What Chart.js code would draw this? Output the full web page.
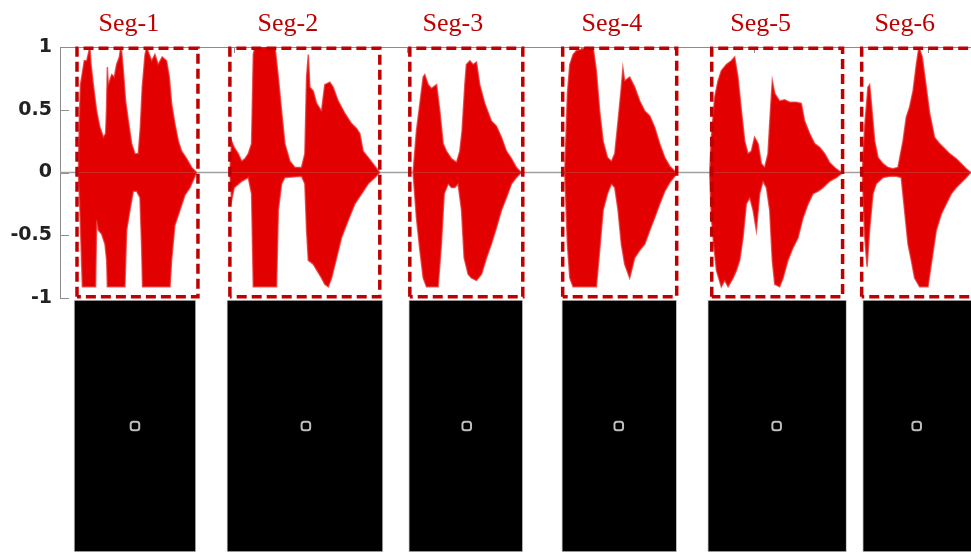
<!DOCTYPE html>
<html>
<head>
<meta charset="utf-8">
<title>Seg-1 ... Seg-6</title>
<script src="https://cdn.jsdelivr.net/npm/chart.js@4.4.0/dist/chart.umd.min.js"></script>
<style>
  html, body { margin: 0; padding: 0; background: #fff; }
  #wrap { position: relative; width: 971px; height: 552px; overflow: hidden; }
  #grafico-onda { position: absolute; left: 0; top: 0; }
  #grafico-blocos { position: absolute; left: 0; top: 300px; }
</style>
</head>
<body>
<div id="wrap">
  <canvas id="grafico-onda" width="971" height="320"></canvas>
  <canvas id="grafico-blocos" width="971" height="252"></canvas>
</div>
<script>
// Segment names and where their titles sit (time, s)
const segNames = ['Seg-1', 'Seg-2', 'Seg-3', 'Seg-4', 'Seg-5', 'Seg-6'];
const segTitleAt = [0.397, 1.313, 2.264, 3.180, 4.038, 4.868];

// Dashed selection boxes (time, s) and their amplitude limit
const boxStart = [0.098, 0.979, 2.016, 2.897, 3.756, 4.620];
const boxEnd = [0.795, 1.843, 2.667, 3.554, 4.510, 5.270];
const boxLimit = 0.99;

// Amplitude axis
const yTicks = [-1, -0.5, 0, 0.5, 1];
const timeMax = 5.25;

// Waveform envelopes, [time s, amplitude]
const seg1Top = [[0.106,0],[0.112,0.45],[0.118,0.70],[0.125,0.76],[0.140,0.89],[0.154,0.89],[0.167,0.97],[0.172,1.00],[0.179,0.86],[0.192,0.70],[0.211,0.49],[0.230,0.36],[0.250,0.28],[0.263,0.31],[0.268,0.50],[0.273,0.84],[0.278,0.70],[0.298,0.78],[0.313,0.76],[0.326,0.86],[0.342,0.92],[0.350,1.00],[0.355,0.97],[0.365,0.81],[0.378,0.57],[0.394,0.41],[0.413,0.23],[0.432,0.15],[0.451,0.15],[0.463,0.36],[0.474,0.68],[0.490,0.94],[0.500,1.00],[0.509,0.96],[0.528,0.89],[0.547,0.94],[0.566,0.86],[0.589,0.92],[0.614,0.89],[0.630,0.76],[0.643,0.55],[0.662,0.39],[0.682,0.25],[0.701,0.17],[0.730,0.11],[0.759,0.04],[0.787,0]];
const seg1Bottom = [[0.106,0],[0.115,-0.30],[0.129,-0.91],[0.205,-0.91],[0.211,-0.38],[0.221,-0.46],[0.240,-0.49],[0.259,-0.57],[0.269,-0.70],[0.273,-0.91],[0.374,-0.91],[0.384,-0.46],[0.403,-0.30],[0.422,-0.15],[0.442,-0.15],[0.461,-0.20],[0.470,-0.57],[0.476,-0.91],[0.634,-0.91],[0.643,-0.70],[0.662,-0.42],[0.691,-0.30],[0.720,-0.18],[0.749,-0.12],[0.778,-0.03],[0.787,0]];

const seg2Top = [[0.979,0],[0.989,0.25],[1.004,0.20],[1.027,0.15],[1.047,0.09],[1.066,0.11],[1.085,0.15],[1.104,0.23],[1.114,0.94],[1.123,1.00],[1.239,1.00],[1.258,0.76],[1.277,0.49],[1.296,0.23],[1.325,0.09],[1.354,0.04],[1.392,0.04],[1.411,0.15],[1.421,0.76],[1.431,0.94],[1.440,0.68],[1.459,0.65],[1.479,0.55],[1.507,0.49],[1.526,0.70],[1.555,0.72],[1.574,0.68],[1.603,0.57],[1.642,0.47],[1.680,0.39],[1.709,0.35],[1.728,0.31],[1.747,0.17],[1.776,0.12],[1.815,0.05],[1.843,0]];
const seg2Bottom = [[0.979,0],[0.989,-0.22],[1.004,-0.12],[1.047,-0.07],[1.085,-0.04],[1.104,-0.17],[1.114,-0.91],[1.248,-0.91],[1.258,-0.30],[1.277,-0.09],[1.296,-0.04],[1.392,-0.03],[1.411,-0.09],[1.421,-0.46],[1.431,-0.70],[1.459,-0.73],[1.507,-0.84],[1.526,-0.89],[1.546,-0.91],[1.565,-0.84],[1.594,-0.68],[1.622,-0.52],[1.661,-0.38],[1.699,-0.25],[1.738,-0.17],[1.776,-0.09],[1.815,-0.04],[1.843,0]];

const seg3Top = [[2.035,0],[2.054,0.33],[2.074,0.55],[2.093,0.76],[2.102,0.78],[2.122,0.70],[2.141,0.67],[2.170,0.70],[2.189,0.49],[2.208,0.23],[2.227,0.17],[2.256,0.11],[2.285,0.08],[2.304,0.17],[2.317,0.33],[2.333,0.70],[2.342,0.86],[2.362,0.89],[2.381,0.86],[2.400,0.88],[2.419,0.70],[2.448,0.55],[2.486,0.41],[2.515,0.37],[2.544,0.28],[2.573,0.17],[2.602,0.11],[2.630,0.04],[2.659,0]];
const seg3Bottom = [[2.035,0],[2.054,-0.36],[2.074,-0.62],[2.093,-0.84],[2.112,-0.91],[2.179,-0.91],[2.198,-0.57],[2.214,-0.17],[2.237,-0.09],[2.256,-0.12],[2.275,-0.12],[2.294,-0.09],[2.314,-0.30],[2.329,-0.68],[2.352,-0.81],[2.371,-0.84],[2.400,-0.86],[2.429,-0.81],[2.458,-0.68],[2.486,-0.57],[2.515,-0.44],[2.544,-0.30],[2.573,-0.20],[2.602,-0.09],[2.630,-0.04],[2.659,0]];

const seg4Top = [[2.909,0],[2.924,0.63],[2.938,0.86],[2.957,0.94],[2.976,0.97],[3.005,0.98],[3.034,1.00],[3.072,1.00],[3.091,0.81],[3.110,0.49],[3.130,0.25],[3.155,0.12],[3.178,0.09],[3.197,0.15],[3.216,0.41],[3.235,0.68],[3.244,0.83],[3.254,0.73],[3.283,0.76],[3.312,0.68],[3.341,0.57],[3.370,0.49],[3.399,0.45],[3.427,0.36],[3.456,0.23],[3.485,0.12],[3.514,0.05],[3.543,0.01],[3.558,0]];
const seg4Bottom = [[2.909,0],[2.924,-0.57],[2.938,-0.84],[2.957,-0.91],[3.091,-0.91],[3.110,-0.62],[3.130,-0.30],[3.155,-0.17],[3.178,-0.09],[3.197,-0.12],[3.216,-0.30],[3.235,-0.57],[3.254,-0.73],[3.283,-0.84],[3.312,-0.68],[3.341,-0.62],[3.370,-0.57],[3.399,-0.46],[3.427,-0.36],[3.456,-0.25],[3.485,-0.15],[3.514,-0.08],[3.543,-0.03],[3.558,0]];

const seg5Top = [[3.744,0],[3.754,0.28],[3.773,0.60],[3.792,0.73],[3.811,0.81],[3.840,0.86],[3.869,0.89],[3.888,0.92],[3.907,0.76],[3.927,0.49],[3.946,0.25],[3.965,0.15],[3.984,0.17],[4.003,0.28],[4.023,0.23],[4.042,0.07],[4.061,0.04],[4.080,0.15],[4.094,0.49],[4.105,0.73],[4.119,0.63],[4.147,0.57],[4.176,0.58],[4.205,0.56],[4.243,0.56],[4.272,0.55],[4.291,0.41],[4.320,0.31],[4.349,0.23],[4.378,0.20],[4.407,0.15],[4.435,0.08],[4.464,0.04],[4.493,0.01],[4.512,0]];
const seg5Bottom = [[3.744,0],[3.754,-0.36],[3.767,-0.57],[3.783,-0.78],[3.811,-0.91],[3.831,-0.86],[3.850,-0.91],[3.879,-0.84],[3.898,-0.78],[3.917,-0.70],[3.936,-0.52],[3.955,-0.25],[3.975,-0.20],[3.994,-0.30],[4.013,-0.46],[4.032,-0.17],[4.051,-0.07],[4.071,-0.12],[4.090,-0.30],[4.105,-0.70],[4.119,-0.89],[4.147,-0.91],[4.167,-0.84],[4.195,-0.70],[4.224,-0.60],[4.253,-0.52],[4.282,-0.36],[4.311,-0.25],[4.339,-0.17],[4.368,-0.15],[4.397,-0.12],[4.435,-0.07],[4.474,-0.04],[4.512,0]];

const seg6Top = [[4.624,0],[4.637,0.36],[4.656,0.68],[4.666,0.70],[4.676,0.55],[4.695,0.25],[4.714,0.12],[4.743,0.07],[4.772,0.04],[4.800,0.03],[4.829,0.04],[4.858,0.25],[4.877,0.44],[4.896,0.52],[4.916,0.65],[4.935,0.86],[4.950,1.00],[4.969,0.92],[4.992,0.68],[5.012,0.47],[5.040,0.28],[5.069,0.23],[5.098,0.19],[5.127,0.15],[5.165,0.11],[5.194,0.07],[5.223,0.03],[5.248,0]];
const seg6Bottom = [[4.624,0],[4.637,-0.50],[4.651,-0.75],[4.666,-0.45],[4.685,-0.17],[4.704,-0.09],[4.743,-0.04],[4.781,-0.03],[4.820,-0.03],[4.848,-0.04],[4.867,-0.30],[4.887,-0.57],[4.906,-0.70],[4.925,-0.84],[4.954,-0.91],[5.002,-0.91],[5.021,-0.73],[5.050,-0.46],[5.079,-0.33],[5.107,-0.25],[5.136,-0.17],[5.165,-0.12],[5.194,-0.08],[5.223,-0.04],[5.248,0]];

// Spectrogram blocks under the waveform (time, s) and the marker in each
const blockStart = [0.081, 0.962, 2.010, 2.892, 3.733, 4.626];
const blockEnd = [0.783, 1.861, 2.667, 3.554, 4.533, 5.300];
const markerAt = [0.432, 1.417, 2.344, 3.220, 4.130, 4.937];

document.addEventListener('DOMContentLoaded', function () {
    const vermelho = '#e30000';
    const vinho = '#bf0000';
    const toPoints = arr => arr.map(p => ({ x: p[0], y: p[1] }));

    const envelopes = [seg1Top, seg1Bottom, seg2Top, seg2Bottom, seg3Top, seg3Bottom,
                       seg4Top, seg4Bottom, seg5Top, seg5Bottom, seg6Top, seg6Bottom];

    const datasets = [];

    // thin grey silence line
    datasets.push({
        data: [{ x: 0, y: 0 }, { x: timeMax, y: 0 }],
        borderColor: '#a0a0a0',
        borderWidth: 1.5,
        pointRadius: 0,
        order: 10
    });

    // red waveforms, each envelope filled to zero
    envelopes.forEach(env => {
        datasets.push({
            data: toPoints(env),
            borderColor: 'rgba(232, 40, 40, 0.75)',
            backgroundColor: vermelho,
            borderWidth: 1.5,
            pointRadius: 0,
            tension: 0,
            fill: 'origin',
            order: 5
        });
    });

    // dashed boxes
    boxStart.forEach((x0, i) => {
        const x1 = boxEnd[i];
        datasets.push({
            data: [
                { x: x0, y: -boxLimit }, { x: x0, y: boxLimit },
                { x: x1, y: boxLimit }, { x: x1, y: -boxLimit }, { x: x0, y: -boxLimit }
            ],
            borderColor: vinho,
            borderWidth: 3.5,
            borderDash: [10, 5],
            pointRadius: 0,
            fill: false,
            clip: false,
            order: 0
        });
    });

    // segment titles + inward tick marks
    const extras = {
        id: 'extras',
        beforeDatasetsDraw(chart) {
            const { ctx, chartArea, scales } = chart;
            ctx.save();
            ctx.strokeStyle = '#8c8c8c';
            ctx.lineWidth = 1;
            scales.y.ticks.forEach(t => {
                const py = Math.round(scales.y.getPixelForValue(t.value)) + 0.5;
                ctx.beginPath();
                ctx.moveTo(chartArea.left, py);
                ctx.lineTo(chartArea.left + 9, py);
                ctx.stroke();
            });
            scales.x.ticks.forEach(t => {
                const px = Math.round(scales.x.getPixelForValue(t.value)) + 0.5;
                ctx.beginPath();
                ctx.moveTo(px, chartArea.top);
                ctx.lineTo(px, chartArea.top + 6);
                ctx.stroke();
            });
            ctx.restore();
        },
        afterDraw(chart) {
            const { ctx, scales } = chart;
            ctx.save();
            ctx.font = '26px "Liberation Serif"';
            ctx.fillStyle = vinho;
            ctx.textAlign = 'center';
            ctx.textBaseline = 'alphabetic';
            segNames.forEach((name, i) => {
                ctx.fillText(name, scales.x.getPixelForValue(segTitleAt[i]), 31);
            });
            ctx.restore();
        }
    };

    new Chart(document.getElementById('grafico-onda'), {
        type: 'line',
        data: { datasets: datasets },
        options: {
            responsive: false,
            animation: false,
            devicePixelRatio: 1,
            layout: { autoPadding: false, padding: { top: 47, bottom: 22, left: 0, right: 0 } },
            plugins: { legend: { display: false }, tooltip: { enabled: false } },
            scales: {
                x: {
                    type: 'linear',
                    position: 'top',
                    min: 0,
                    max: timeMax,
                    ticks: { display: false, stepSize: 1, includeBounds: false },
                    grid: { drawOnChartArea: false, drawTicks: false },
                    border: { display: true, color: '#8c8c8c', width: 1 },
                    afterFit: scale => { scale.height = 0; }
                },
                y: {
                    min: -1,
                    max: 1,
                    afterBuildTicks: scale => { scale.ticks = yTicks.map(v => ({ value: v })); },
                    ticks: {
                        padding: 8,
                        color: '#222',
                        font: { family: 'DejaVu Sans', size: 19, weight: 'bold' },
                        callback: v => String(v)
                    },
                    grid: { drawOnChartArea: false, drawTicks: false },
                    border: { display: true, color: '#8c8c8c', width: 1 },
                    afterFit: scale => { scale.width = 60; }
                }
            }
        },
        plugins: [extras]
    });

    // black spectrogram blocks with a small marker in each
    new Chart(document.getElementById('grafico-blocos'), {
        type: 'bar',
        data: {
            labels: ['faixa'],
            datasets: [{
                data: blockStart.map((x0, i) => ({ y: 'faixa', x: [x0, blockEnd[i]] })),
                backgroundColor: '#000',
                borderColor: '#c4c4c4',
                borderWidth: 1,
                borderSkipped: false,
                barPercentage: 1,
                categoryPercentage: 1,
                order: 1
            }, {
                type: 'scatter',
                data: markerAt.map(x => ({ x: x, y: 'faixa' })),
                pointStyle: 'rectRounded',
                pointRadius: 5,
                borderColor: '#bdbdbd',
                borderWidth: 2,
                backgroundColor: '#000',
                order: 0
            }]
        },
        options: {
            indexAxis: 'y',
            responsive: false,
            animation: false,
            devicePixelRatio: 1,
            layout: { autoPadding: false, padding: { left: 60, right: 0, top: 0, bottom: 0 } },
            plugins: { legend: { display: false }, tooltip: { enabled: false } },
            scales: {
                x: { type: 'linear', min: 0, max: timeMax, display: false },
                y: { type: 'category', display: false }
            }
        }
    });
});
</script>
</body>
</html>
